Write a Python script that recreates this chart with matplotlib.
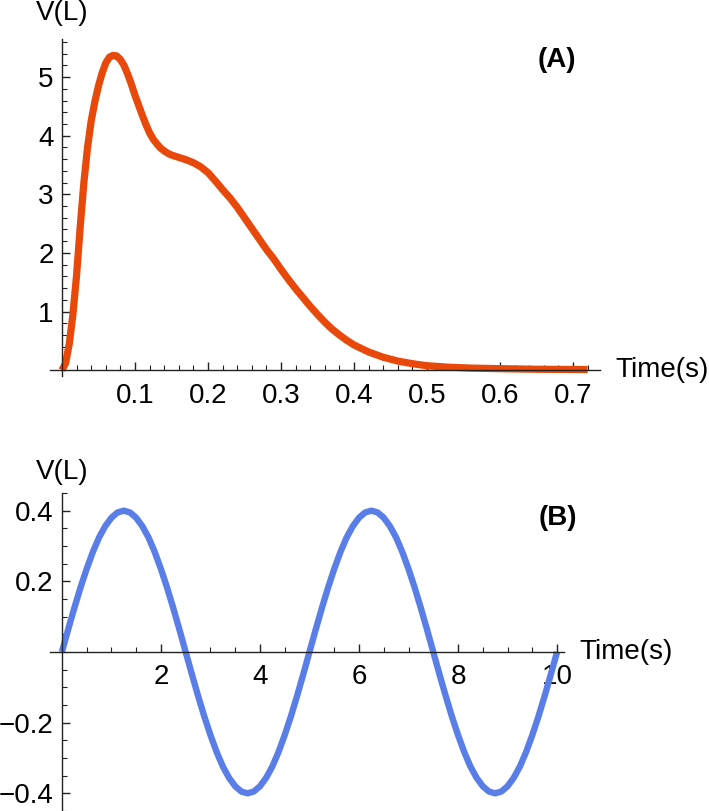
import matplotlib
matplotlib.use('Agg')
import matplotlib.pyplot as plt
import numpy as np

plt.rcParams['font.family'] = ['Liberation Sans', 'DejaVu Sans']

# panel A: volume over one breath
time_a = [0, 0.005, 0.01, 0.015, 0.02, 0.025, 0.03, 0.035, 0.04, 0.045,
          0.05, 0.055, 0.06, 0.065, 0.07, 0.075, 0.08, 0.085, 0.09, 0.095,
          0.10, 0.105, 0.11, 0.115, 0.12, 0.125, 0.13, 0.135, 0.14, 0.145,
          0.15, 0.16, 0.17, 0.18, 0.19, 0.20, 0.21, 0.22, 0.23, 0.24,
          0.25, 0.26, 0.27, 0.28, 0.29, 0.30, 0.31, 0.32, 0.33, 0.34,
          0.35, 0.36, 0.37, 0.38, 0.39, 0.40, 0.42, 0.44, 0.46, 0.48,
          0.50, 0.53, 0.56, 0.60, 0.65, 0.72]
vol_a = [0, 0.12, 0.45, 0.95, 1.62, 2.45, 3.2, 3.8, 4.25, 4.58,
         4.85, 5.07, 5.24, 5.34, 5.37, 5.36, 5.3, 5.2, 5.05, 4.88,
         4.69, 4.52, 4.35, 4.19, 4.05, 3.94, 3.86, 3.79, 3.74, 3.70,
         3.67, 3.63, 3.59, 3.54, 3.47, 3.37, 3.23, 3.08, 2.94, 2.78,
         2.60, 2.42, 2.24, 2.06, 1.90, 1.72, 1.55, 1.39, 1.24, 1.09,
         0.95, 0.82, 0.70, 0.60, 0.51, 0.43, 0.31, 0.22, 0.155, 0.11,
         0.075, 0.05, 0.035, 0.025, 0.015, 0.01]

# panel B: oscillating volume, sampled every 0.125 s
time_b = [i * 0.125 for i in range(81)]
vol_b = [0, 0.063, 0.124, 0.182, 0.235, 0.283, 0.324, 0.356, 0.380, 0.395,
         0.400, 0.395, 0.380, 0.356, 0.324, 0.283, 0.235, 0.182, 0.124, 0.063,
         0, -0.063, -0.124, -0.182, -0.235, -0.283, -0.324, -0.356, -0.380, -0.395,
         -0.400, -0.395, -0.380, -0.356, -0.324, -0.283, -0.235, -0.182, -0.124, -0.063,
         0, 0.063, 0.124, 0.182, 0.235, 0.283, 0.324, 0.356, 0.380, 0.395,
         0.400, 0.395, 0.380, 0.356, 0.324, 0.283, 0.235, 0.182, 0.124, 0.063,
         0, -0.063, -0.124, -0.182, -0.235, -0.283, -0.324, -0.356, -0.380, -0.395,
         -0.400, -0.395, -0.380, -0.356, -0.324, -0.283, -0.235, -0.182, -0.124, -0.063,
         0]

xticks_a = [0.1, 0.2, 0.3, 0.4, 0.5, 0.6, 0.7]
yticks_a = [1, 2, 3, 4, 5]
xticks_b = [2, 4, 6, 8, 10]
yticks_b = [-0.4, -0.2, 0.2, 0.4]

orange = '#e8490a'
blue = '#5a7ee8'
axis_col = '#222222'
fs = 20

W, H = 709, 811
fig = plt.figure(figsize=(W / 100, H / 100), dpi=100)


def px_axes(left, right, top, bottom):
    return fig.add_axes([left / W, 1 - bottom / H, (right - left) / W, (bottom - top) / H])


def style(ax):
    for s in ['top', 'right']:
        ax.spines[s].set_visible(False)
    for s in ['left', 'bottom']:
        ax.spines[s].set_position(('data', 0))
        ax.spines[s].set_color(axis_col)
        ax.spines[s].set_linewidth(1.0)
    ax.tick_params(which='major', direction='in', length=6, width=1.0,
                   color=axis_col, labelsize=fs, pad=6)
    ax.tick_params(which='minor', direction='in', length=3.5, width=0.8,
                   color=axis_col)
    ax.tick_params(axis='x', which='major', pad=9)
    ax.patch.set_alpha(0)


# ---- panel A ----
ax1 = px_axes(50, 600, 39, 376)
ax1.plot(time_a, vol_a, color=orange, lw=5.2, solid_capstyle='butt',
         solid_joinstyle='round', clip_on=False)
ax1.set_xlim(-0.0164, 0.737)
ax1.set_ylim(-0.1, 5.65)
style(ax1)
ax1.set_xticks(xticks_a)
ax1.set_xticklabels([f'{v:.1f}' for v in xticks_a])
ax1.set_xticks(np.arange(0.02, 0.73, 0.02), minor=True)
ax1.set_yticks(yticks_a)
ax1.set_yticklabels([str(v) for v in yticks_a])
ax1.set_yticks(np.arange(0.2, 5.61, 0.2), minor=True)
ax1.annotate('V(L)', xy=(0, 1), xycoords=('data', 'axes fraction'),
             xytext=(0, 19), textcoords='offset points',
             ha='center', va='center', fontsize=fs)
ax1.annotate('Time(s)', xy=(1, 0), xycoords=('axes fraction', 'data'),
             xytext=(11, 0), textcoords='offset points',
             ha='left', va='center', fontsize=fs)
ax1.text(0.678, 5.29, '(A)', ha='center', va='center', fontsize=20, fontweight='bold')

# ---- panel B ----
ax2 = px_axes(50, 564, 493, 811)
ax2.plot(time_b, vol_b, color=blue, lw=4.6, solid_capstyle='butt',
         solid_joinstyle='round', clip_on=False)
ax2.set_xlim(-0.24, 10.14)
ax2.set_ylim(-0.448, 0.448)
style(ax2)
ax2.set_xticks(xticks_b)
ax2.set_xticklabels([str(v) for v in xticks_b])
ax2.set_xticks(np.arange(0.5, 10.01, 0.5), minor=True)
ax2.set_yticks(yticks_b)
ax2.set_yticklabels([f'{v:.1f}'.replace('-', '\u2212') for v in yticks_b])
ax2.set_yticks(np.arange(-0.45, 0.451, 0.05), minor=True)
ax2.annotate('V(L)', xy=(0, 1), xycoords=('data', 'axes fraction'),
             xytext=(0, 15), textcoords='offset points',
             ha='center', va='center', fontsize=fs)
ax2.annotate('Time(s)', xy=(1, 0), xycoords=('axes fraction', 'data'),
             xytext=(11, 0), textcoords='offset points',
             ha='left', va='center', fontsize=fs)
ax2.text(10.02, 0.38, '(B)', ha='center', va='center', fontsize=20, fontweight='bold')

fig.savefig('out.png', dpi=100)
